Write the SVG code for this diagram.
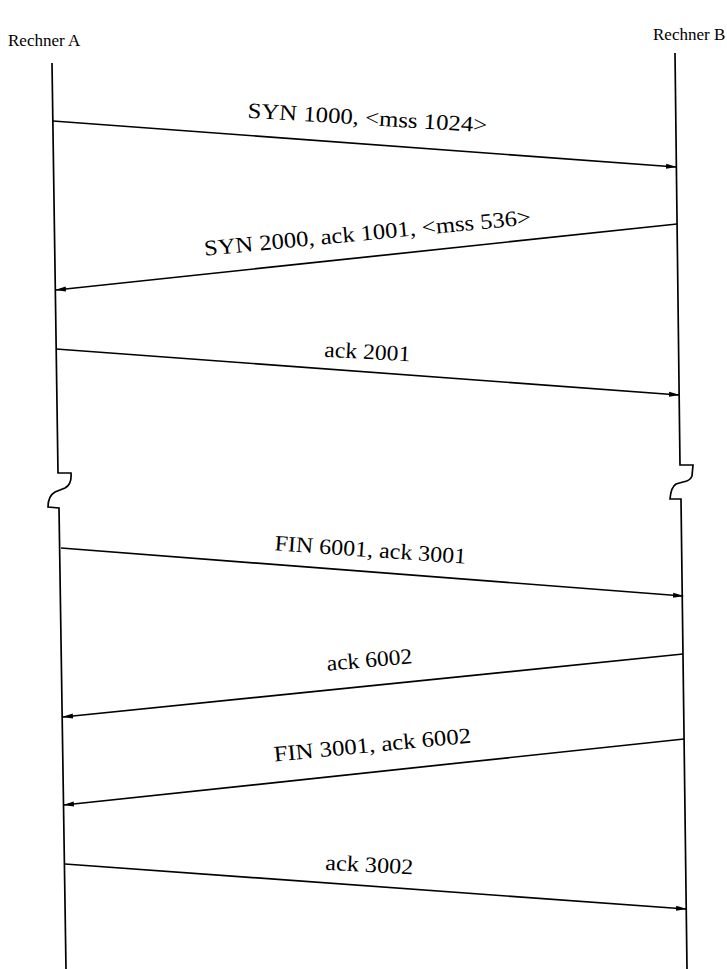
<svg xmlns="http://www.w3.org/2000/svg" width="727" height="969" viewBox="0 0 727 969">
<defs>
<marker id="ah" markerWidth="11" markerHeight="7" refX="10" refY="3.5" orient="auto" markerUnits="userSpaceOnUse">
<path d="M0,1 L11,3.5 L0,6 Z" fill="#000"/>
</marker>
<style>
.life{fill:none;stroke:#000;stroke-width:1.7}
.msg{fill:none;stroke:#000;stroke-width:1.7;marker-end:url(#ah)}
.lbl{font-family:"Liberation Serif","Times New Roman",serif;font-size:22px;fill:#000;text-anchor:middle}
.hdr{font-family:"Liberation Serif","Times New Roman",serif;font-size:17px;fill:#000}
</style>
</defs>
<rect width="727" height="969" fill="#fff"/>
<g id="rechnerA">
<text class="hdr" x="8" y="46">Rechner A</text>
<path class="life" d="M52,63 L58,473 L71,473 Q72,484 65,488 L55,492 Q48,496 48,507 L59,508 L66,969"/>
</g>
<g id="rechnerB">
<text class="hdr" x="653" y="40">Rechner B</text>
<path class="life" d="M675,53 L680,465 L693,465 L692,476 Q690,481 683,482 L676,484 Q671,487 670,499 L681,499 L687,969"/>
</g>
<g id="connectors">
<line class="msg" x1="53" y1="121" x2="676" y2="167"/>
<line class="msg" x1="677" y1="224" x2="56" y2="290"/>
<line class="msg" x1="56" y1="349" x2="679" y2="395"/>
<line class="msg" x1="61" y1="548" x2="683" y2="596"/>
<line class="msg" x1="683" y1="654" x2="63" y2="717"/>
<line class="msg" x1="684" y1="739" x2="64" y2="805"/>
<line class="msg" x1="65" y1="864" x2="686" y2="909"/>
</g>
<g id="labels">
<text class="lbl" transform="translate(367,125) rotate(3.5)" textLength="240" lengthAdjust="spacingAndGlyphs">SYN 1000, &lt;mss 1024&gt;</text>
<text class="lbl" transform="translate(368,240) rotate(-5.5)" textLength="328" lengthAdjust="spacingAndGlyphs">SYN 2000, ack 1001, &lt;mss 536&gt;</text>
<text class="lbl" transform="translate(367,359) rotate(3)" textLength="86" lengthAdjust="spacingAndGlyphs">ack 2001</text>
<text class="lbl" transform="translate(370,557) rotate(4)" textLength="192" lengthAdjust="spacingAndGlyphs">FIN 6001, ack 3001</text>
<text class="lbl" transform="translate(370,667) rotate(-5)" textLength="86" lengthAdjust="spacingAndGlyphs">ack 6002</text>
<text class="lbl" transform="translate(373,752) rotate(-5.5)" textLength="198" lengthAdjust="spacingAndGlyphs">FIN 3001, ack 6002</text>
<text class="lbl" transform="translate(369,872) rotate(3)" textLength="88" lengthAdjust="spacingAndGlyphs">ack 3002</text>
</g>
</svg>
